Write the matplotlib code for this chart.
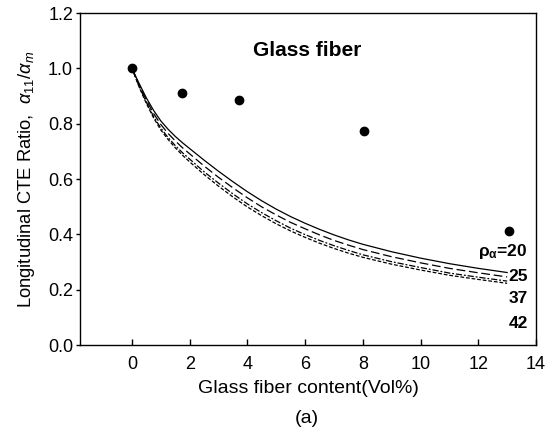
import matplotlib
matplotlib.use("Agg")
import matplotlib.pyplot as plt

plt.rcParams['font.family'] = ['Liberation Sans', 'DejaVu Sans']
plt.rcParams['mathtext.fontset'] = 'custom'
plt.rcParams['mathtext.rm'] = 'Liberation Sans'
plt.rcParams['mathtext.it'] = 'Liberation Sans:italic'
plt.rcParams['mathtext.bf'] = 'Liberation Sans:bold'

# measured points (glass fiber)
exp_x = [0.0, 1.75, 3.7, 8.05, 13.05]
exp_y = [1.0, 0.91, 0.885, 0.775, 0.413]

# model curves
curve_x = [0, 0.25, 0.5, 0.75, 1, 1.25, 1.5, 1.75, 2, 2.5, 3, 3.5, 4, 4.5, 5, 5.5,
           6, 6.5, 7, 7.5, 8, 9, 10, 11, 12, 13]
rho20 = [1.0, 0.945, 0.893, 0.848, 0.81, 0.78, 0.754, 0.731, 0.71, 0.668, 0.628,
         0.59, 0.554, 0.521, 0.491, 0.464, 0.44, 0.418, 0.398, 0.38, 0.364, 0.337,
         0.314, 0.294, 0.277, 0.262]
rho25 = [1.0, 0.940, 0.885, 0.837, 0.797, 0.765, 0.738, 0.713, 0.691, 0.647, 0.606,
         0.568, 0.532, 0.499, 0.470, 0.443, 0.420, 0.398, 0.378, 0.361, 0.345, 0.319,
         0.297, 0.277, 0.261, 0.246]
rho37 = [1.0, 0.935, 0.877, 0.826, 0.784, 0.750, 0.721, 0.695, 0.672, 0.626, 0.585,
         0.546, 0.510, 0.478, 0.449, 0.422, 0.399, 0.378, 0.359, 0.342, 0.326, 0.301,
         0.280, 0.260, 0.245, 0.231]
rho42 = [1.0, 0.932, 0.873, 0.821, 0.777, 0.743, 0.713, 0.686, 0.662, 0.616, 0.574,
         0.535, 0.499, 0.467, 0.438, 0.412, 0.389, 0.368, 0.349, 0.332, 0.317, 0.292,
         0.271, 0.252, 0.237, 0.223]

curve_labels = ['20', '25', '37', '42']
label_y = [0.337, 0.247, 0.169, 0.078]

fig = plt.figure(figsize=(5.49, 4.36), dpi=100)
ax = fig.add_axes([80 / 549, 1 - 345 / 436, (536 - 80) / 549, (345 - 13) / 436])

# curves
ax.plot(curve_x, rho20, color='black', lw=0.9, linestyle='-')
ax.plot(curve_x, rho25, color='black', lw=0.9, linestyle=(0, (7, 3)))
ax.plot(curve_x, rho37, color='black', lw=0.9, linestyle=(0, (5, 1.5, 1.5, 1.5)))
ax.plot(curve_x, rho42, color='black', lw=0.9, linestyle=(0, (3, 1.5)))

# data points
ax.plot(exp_x, exp_y, 'o', color='black', markersize=6, zorder=5)

ax.set_xlim(-1.8, 14)
ax.set_ylim(0, 1.2)
ax.set_xticks(range(0, 15, 2))
ax.set_yticks([0.0, 0.2, 0.4, 0.6, 0.8, 1.0, 1.2])
ax.set_yticklabels(['0.0', '0.2', '0.4', '0.6', '0.8', '1.0', '1.2'])
ax.tick_params(axis='x', direction='in', length=4, width=1, labelsize=13, pad=8)
ax.tick_params(axis='y', direction='out', length=3, width=1, labelsize=13, pad=2)
for s in ax.spines.values():
    s.set_linewidth(1.0)

ax.set_xlabel('Glass fiber content(Vol%)', fontsize=14)
ax.set_ylabel(r'Longitudinal CTE Ratio,  $\alpha_{11}/\alpha_{m}$', fontsize=13.2)
ax.xaxis.set_label_coords(0.5, -0.105)
ax.yaxis.set_label_coords(-0.095, 0.5)

ax.text(4.19, 1.065, 'Glass fiber', fontsize=15, fontweight='bold', va='center', ha='left')

# rho labels on the right
for i, (lab, ly) in enumerate(zip(curve_labels, label_y)):
    txt = r'$\mathbf{\rho_{\alpha}}$=' + lab if i == 0 else lab
    ax.text(13.72, ly, txt, fontsize=12.5, fontweight='bold', ha='right', va='center')

fig.text(307 / 549, 1 - 418 / 436, '(a)', fontsize=14, ha='center', va='center')

fig.savefig('out.png', dpi=100)
